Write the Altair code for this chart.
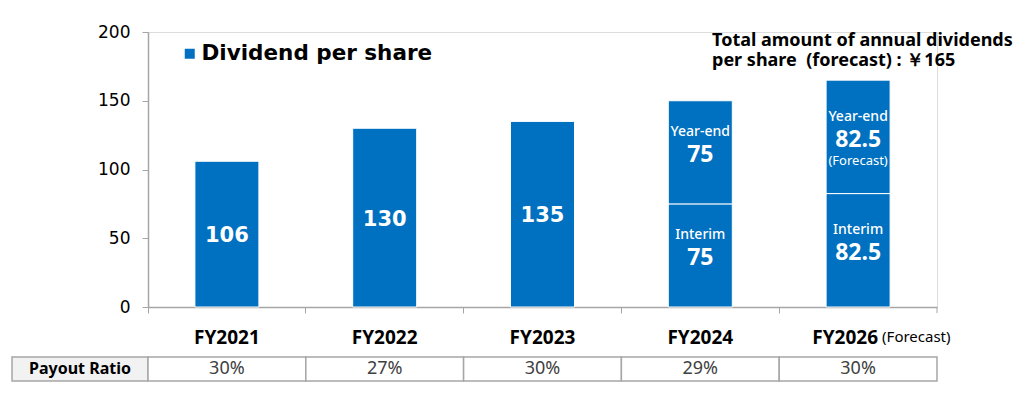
import altair as alt
import pandas as pd

# ---- data ----
categories = ["FY2021", "FY2022", "FY2023", "FY2024", "FY2026"]
interim = [106, 130, 135, 75, 82.5]
year_end = [0, 0, 0, 75, 82.5]
value_labels_interim = ["106", "130", "135", "75", "82.5"]
value_labels_year_end = ["", "", "", "75", "82.5"]
captions_interim = ["", "", "", "Interim", "Interim"]
captions_year_end = ["", "", "", "Year-end", "Year-end"]
captions_below = ["", "", "", "", "(Forecast)"]
payout_ratio = ["30%", "27%", "30%", "29%", "30%"]
series_name = "Dividend per share"
annotation = "Total amount of annual dividends\nper share\u00a0 (forecast) : ￥165"

BLUE = "#0070C0"
GRAY = "#a6a6a6"
JP = "Noto Sans"
VD = "DejaVu Sans"

W, H = 789, 275

# segments table
rows = []
for i, c in enumerate(categories):
    rows.append(dict(cat=c, y0=0, y1=interim[i], series=series_name,
                     val=value_labels_interim[i], top=captions_interim[i], below="",
                     single=(year_end[i] == 0)))
    if year_end[i] > 0:
        rows.append(dict(cat=c, y0=interim[i], y1=interim[i] + year_end[i], series=series_name,
                         val=value_labels_year_end[i], top=captions_year_end[i],
                         below=captions_below[i], single=False))
seg = pd.DataFrame(rows)
seg["mid"] = (seg["y0"] + seg["y1"]) / 2

table = pd.DataFrame({"cat": categories, "payout": payout_ratio,
                      "label": [c for c in categories]})
one = pd.DataFrame({"k": [0]})

xscale = alt.Scale(domain=categories, paddingInner=0, paddingOuter=0)
xenc = alt.X("cat:N", scale=xscale, sort=categories,
             axis=alt.Axis(title=None, labels=False, bandPosition=0, tickSize=6,
                           tickColor=GRAY, domainColor=GRAY, domainWidth=1.5))
yscale = alt.Scale(domain=[0, 200])
xc = alt.X("cat:N", scale=xscale, sort=categories)
ym = alt.Y("mid:Q", scale=yscale)

bars = alt.Chart(seg).mark_bar(width=64, stroke="white", strokeWidth=1).encode(
    x=xenc,
    y=alt.Y("y0:Q", scale=yscale,
            axis=alt.Axis(title=None, values=[0, 50, 100, 150, 200], grid=False,
                          tickSize=6, tickColor=GRAY, domainColor=GRAY, domainWidth=1.5,
                          labelFont=VD, labelFontSize=17, labelColor="#000000",
                          labelPadding=12)),
    y2="y1:Q",
    color=alt.Color("series:N", scale=alt.Scale(domain=[series_name], range=[BLUE]),
                    legend=alt.Legend(title=None, orient="none", legendX=31, legendY=11,
                                      symbolType="square", symbolSize=100,
                                      symbolStrokeWidth=0, labelFont=VD,
                                      labelFontSize=21.5, labelFontWeight="bold",
                                      labelColor="#000000", labelOffset=1,
                                      labelLimit=0)),
)

single_vals = alt.Chart(seg).transform_filter("datum.single").mark_text(
    font=VD, fontSize=21, fontWeight="bold", color="white", baseline="middle", dy=2
).encode(x=xc, y=ym, text="val:N")

split_vals = alt.Chart(seg).transform_filter("!datum.single").mark_text(
    font=JP, fontSize=23, fontWeight="bold", color="white", baseline="middle", dy=3
).encode(x=xc, y=ym, text="val:N")

top_caps = alt.Chart(seg).transform_filter("datum.top != ''").mark_text(
    font=JP, fontSize=14, fontWeight=500, color="white", baseline="middle", dy=-20
).encode(x=xc, y=ym, text="top:N")

below_caps = alt.Chart(seg).transform_filter("datum.below != ''").mark_text(
    font=JP, fontSize=13, color="white", baseline="middle", dy=24
).encode(x=xc, y=ym, text="below:N")

# category labels
cat_labels = alt.Chart(table).transform_filter("datum.cat != 'FY2026'").mark_text(
    font=JP, fontSize=19, fontWeight="bold", color="#000000", baseline="middle"
).encode(x=xc, y=alt.value(306), text="label:N")

last_label = alt.Chart(table).transform_filter("datum.cat == 'FY2026'").mark_text(
    font=JP, fontSize=19, fontWeight="bold", color="#000000", baseline="middle",
    align="right", dx=20
).encode(x=xc, y=alt.value(306), text="label:N")

forecast_label = alt.Chart(table).transform_filter("datum.cat == 'FY2026'").mark_text(
    font=JP, fontSize=15, color="#000000", baseline="middle", align="left", dx=24, dy=-1
).encode(x=xc, y=alt.value(306), text=alt.value("(Forecast)"))

end_tick = alt.Chart(one).mark_rule(color=GRAY, strokeWidth=1).encode(
    x=alt.value(W), y=alt.value(H), y2=alt.value(H + 6))

# payout table
cells = alt.Chart(table).mark_rect(fill="white", stroke=GRAY, strokeWidth=1.5).encode(
    x=xc, y=alt.value(325), y2=alt.value(349))
header_cell = alt.Chart(one).mark_rect(fill="#f2f2f2", stroke=GRAY, strokeWidth=1.5).encode(
    x=alt.value(-136), x2=alt.value(0), y=alt.value(325), y2=alt.value(349))
cell_text = alt.Chart(table).mark_text(
    font=JP, fontSize=18, color="#404040", baseline="middle"
).encode(x=xc, y=alt.value(337), text="payout:N")
header_text = alt.Chart(one).mark_text(
    font=JP, fontSize=16, fontWeight="bold", color="#000000", baseline="middle"
).encode(x=alt.value(-68), y=alt.value(337), text=alt.value("Payout Ratio"))

note = alt.Chart(one).mark_text(
    font=JP, fontSize=18, fontWeight="bold", color="#000000", baseline="middle",
    align="left", lineBreak="\n", lineHeight=20
).encode(x=alt.value(564), y=alt.value(9), text=alt.value(annotation))

chart = alt.layer(
    bars, single_vals, split_vals, top_caps, below_caps,
    cat_labels, last_label, forecast_label, end_tick,
    header_cell, cells, cell_text, header_text, note
).properties(
    width=W, height=H,
    autosize=alt.AutoSizeParams(type="none"),
    padding={"left": 140, "top": 24, "right": 80, "bottom": 78},
).configure_view(stroke=None).configure(background="white")

chart.save("out.html", embed_options={"renderer": "svg", "actions": False})
